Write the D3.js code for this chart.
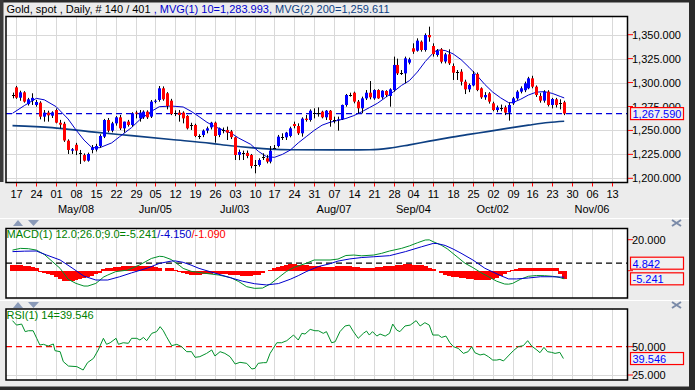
<!DOCTYPE html>
<html><head><meta charset="utf-8">
<script src="https://cdn.jsdelivr.net/npm/d3@7"></script>
<style>body{margin:0;background:#ececec;overflow:hidden}svg{display:block;font-family:"Liberation Sans",Arial,sans-serif}</style>
</head><body><svg id="c" width="695" height="390"></svg>
<script>
// ===== data (index = trading day, 0 = Apr 13) =====
const opens=[1286.5,1295,1284.2,1289.8,1277.5,1281,1276.6,1279,1264.4,1268.6,
1265.4,1271.3,1258,1257,1239.3,1228.9,1235,1226.5,1224.3,1218.4,
1229.6,1230,1233.7,1243.5,1260.9,1249.8,1257.4,1263.7,1252.2,1259.2,
1255.7,1268.6,1262.6,1263.7,1269.6,1264.4,1280.1,1281.8,1294,1288.8,
1281.1,1268,1268.6,1268.6,1265.1,1255.7,1255.7,1244.2,1245.2,1249.8,
1253.2,1258.1,1245.2,1250.5,1250.5,1249,1242.8,1224.5,1226,1226.5,
1224.3,1213.9,1213.9,1222.6,1220.9,1217.4,1232,1233.7,1243.5,1242.8,
1244.2,1256.7,1254.6,1247,1262.3,1260.9,1267.9,1267.9,1269.6,1263.7,
1270.6,1260.9,1260.5,1261.6,1276.6,1287,1289.4,1280.1,1273.1,1283.5,
1289.4,1283.5,1292.2,1284.6,1291.2,1286,1292.2,1318.4,1309.6,1309.6,
1320.8,1335.8,1333.3,1342.7,1334,1349.7,1338.2,1328.8,1334.7,1322,
1329.5,1317.3,1310.7,1311.4,1300.9,1292.9,1297,1309,1294,1284.6,
1288.7,1278.3,1271.3,1273.5,1274.1,1268.6,1278.3,1283.5,1290.5,1292,
1294,1304.4,1295.7,1286,1281.1,1290.5,1276.6,1282.5,1279,1279.4];
const highs=[1289.5,1296.5,1291.5,1291,1284,1288.8,1281.8,1280.5,1271.3,1270.6,
1270,1273,1261,1259,1240.7,1231.6,1237,1229.6,1226,1226.8,
1234.8,1236,1246,1262,1263,1259,1265,1266.1,1259.2,1261,
1269,1270.6,1271.3,1271,1271,1281.8,1282.5,1296.4,1296,1290,
1283,1271,1271.3,1270,1266,1258,1257,1246,1251,1254,
1259,1259.2,1253,1253,1254,1250.5,1243.5,1230,1228.9,1229,
1225.4,1219.1,1220.9,1226.1,1224.3,1233.7,1234.8,1245.3,1247,1248.5,
1253.9,1259.2,1257.4,1263.7,1266.1,1272,1273.1,1274.1,1270.6,1271.3,
1271.3,1264.4,1264.4,1277,1288.1,1289.4,1290.5,1281.8,1285.3,1292.2,
1301.6,1293,1293,1292,1292,1294,1327.1,1325,1313.1,1327.1,
1326,1341,1346.2,1344,1351.4,1358.4,1341,1335,1336,1331,
1334.7,1320,1313.1,1314,1303,1299,1312,1310.5,1295,1290,
1290,1280,1276,1277,1276,1279,1285,1292,1296,1301,
1306,1307.1,1297,1289,1292,1292,1284,1284,1282.5,1281];
const lows=[1283.5,1283,1281,1279,1276,1276.6,1274.8,1261.6,1259.2,1259.2,
1263,1257.4,1252,1238,1225.4,1225.4,1224.3,1215,1217.4,1217.4,
1226.1,1228,1232,1242,1248,1248,1255,1250.5,1247.7,1254,
1254,1262.6,1259.2,1262,1262,1263,1278.3,1280,1281,1272,
1266,1265,1259.2,1257.4,1251,1250.5,1243,1241,1243,1247,
1251,1237.2,1243,1247,1240,1241,1219.1,1219,1219.1,1221,
1210.4,1205.2,1212.2,1219.1,1215.6,1215.6,1231,1232.3,1240,1240,
1242.8,1252.2,1245.3,1243.5,1259.2,1259.2,1262.6,1264.4,1262.6,1260.9,
1253.9,1257.4,1249.8,1260.9,1274.8,1285.3,1278.3,1267.9,1267.9,1281.8,
1282.5,1282,1283,1283,1285,1274.8,1290.5,1307.9,1307.9,1299.2,
1319,1330,1332.3,1332.3,1332.3,1342.7,1327.1,1327,1320,1320,
1318.4,1302.7,1302.7,1297,1288,1290,1296,1291,1283,1282,
1278,1270,1269,1270,1266,1260.2,1276.6,1282,1288.7,1290,
1293,1294,1285,1279,1279,1275,1273,1274,1272,1266];
const closes=[1286.5,1284.2,1289.8,1280.1,1282.5,1284,1279.7,1264.4,1268.6,1265.8,
1268.9,1258.1,1256,1239.5,1229.6,1230.3,1228.9,1226.5,1218.4,1225.4,
1232.3,1233.7,1244.2,1260.9,1249.8,1257.4,1263.7,1252.2,1259.2,1255.7,
1267.9,1267.8,1268.6,1269.6,1263.7,1280.1,1281,1294,1282.5,1275.5,
1267.2,1268,1266.1,1262.6,1252.2,1255.7,1244.2,1244.2,1249.8,1252.2,
1258.1,1244.2,1252.2,1250.5,1247.7,1243,1224.3,1227.5,1226,1223.3,
1212.9,1213.9,1219.1,1222.6,1217.4,1228.9,1232,1243.5,1243.5,1247.7,
1252.2,1254.6,1247,1262.3,1260.9,1270.6,1267.9,1267.9,1263.7,1270.6,
1260.9,1260.9,1261.6,1276.6,1287,1287,1280.1,1273.1,1283.5,1289.4,
1284.6,1292.2,1283.5,1291.5,1287,1292.9,1318.4,1309.6,1309.6,1325.3,
1324.3,1332.3,1343.8,1334,1349.7,1347.3,1329.8,1333.3,1321.8,1329.5,
1320.1,1310.3,1310.7,1300.9,1292.9,1297.5,1309,1292.2,1284.6,1287,
1280.1,1271.3,1274.1,1273.5,1268.6,1276.6,1283.5,1290.5,1294,1299.2,
1304.4,1295.7,1287,1281.1,1290.5,1276.6,1282.8,1276.6,1279,1267.59];
// moving averages: [day index, value]
const ma10=[[0,1267.9],[3,1276],[6,1283.5],[8,1282],[11,1274.8],[14,1262],[16,1250.5],[18,1240],[20,1232],[22,1232],[25,1237],[27,1243.5],[30,1253],[32,1260.9],[35,1270],[37,1274.8],[40,1275.5],[43,1274.5],[45,1270],[47,1264.4],[49,1258.5],[51,1253.9],[53,1250.5],[55,1247.3],[57,1242],[60,1235.5],[62,1228],[64,1222.6],[66,1221.9],[68,1225],[70,1229.5],[72,1237],[74,1243.5],[76,1250],[78,1255.5],[80,1258.5],[82,1260.5],[84,1262.5],[86,1265.5],[88,1269.5],[90,1274],[92,1278.5],[94,1284.5],[96,1290.5],[98,1297],[100,1302],[102,1311],[104,1322],[106,1331],[107,1334],[109,1333.5],[111,1330],[113,1324],[115,1316],[117,1307.5],[119,1298],[121,1290],[123,1284],[125,1279],[126,1279],[128,1282.5],[130,1287],[132,1290],[134,1290.5],[136,1288.7],[138,1285.5],[139,1283.993]];
const ma200=[[0,1255],[10,1253],[20,1248.5],[30,1244.5],[40,1240.5],[50,1236.5],[55,1234],[60,1232],[65,1230.5],[70,1229.8],[80,1229.6],[90,1229.8],[95,1231.5],[100,1235],[105,1238.8],[110,1242.5],[115,1245.8],[120,1249],[125,1252.4],[130,1255.5],[135,1258.3],[139,1259.611]];
const macdLine=[[0,13.3],[2,14.4],[4,14.2],[6,13.3],[8,10.5],[10,6],[12,1.5],[14,-5.5],[16,-8.2],[18,-9.9],[19,-9.9],[21,-8.2],[23,-4],[24,-2.8],[26,-0.6],[29,0.4],[32,3.7],[35,7.9],[37,9.3],[38,9.1],[40,7.2],[42,3.5],[43,1.5],[45,-0.4],[48,-1.5],[52,-2.8],[55,-4.5],[57,-7],[59,-10.3],[61,-11.4],[63,-11.2],[65,-8.5],[67,-4.5],[69,-0.5],[71,2.2],[74,4.8],[76,6.9],[80,6.9],[82,7.5],[84,9.8],[86,10.1],[88,9.6],[91,10.1],[93,11.2],[95,12.7],[98,14.4],[100,16],[102,18],[104,19.8],[105,19.9],[106,18.7],[108,16.5],[109.5,14.2],[112,9],[114,4.8],[116,2],[118,-1.2],[120,-4],[122,-6.8],[124,-8.6],[125,-8.7],[126,-8.2],[128,-5.5],[130,-3.6],[132,-3.1],[134,-3.2],[136,-3.6],[137,-3.9],[138,-4.5],[139,-5.241]];
const signalLine=[[0,12.3],[3,12.6],[6,12.7],[8.6,10.1],[12,6.9],[15,1.8],[18,-3.5],[21,-6],[24,-6],[27,-3.9],[30,-1.4],[34,1.7],[37,4.7],[40,6.2],[41,6.3],[43,5.4],[45,3.6],[47,1.5],[51,-1.6],[55,-4.6],[58,-6.8],[61,-8.4],[64,-9.2],[67,-8.3],[70,-5.5],[72,-3.2],[74,-0.6],[77,2.6],[80,4.5],[82,6.2],[85,7.6],[88,8.5],[91,9],[95,9.7],[99,12.3],[103,15.4],[106,17.6],[107,17.5],[109,16.3],[111,14],[113,11.3],[116,6.9],[119,1.6],[123,-3.2],[125,-5.3],[127,-5.3],[130,-4.7],[133,-3.9],[136,-3.9],[138,-4.1],[139,-4.15]];
const histBars=[3.7,3.7,3.5,3.2,2.8,2.3,1.5,-0.8,-1.7,-2.3,-2.8,-4,-5.5,-6.5,-6.7,-6.7,-6.3,-5.5,-4.9,-4,
-3.2,-2.4,-1.2,0.8,1.5,2,2.3,2.5,2.8,3,3.2,3,2.8,3,3.2,3,2.5,2,0,2,
1.5,0.5,-1,-1.7,-2.3,-2.8,-2.8,-2.5,-2.3,-2,-1.9,-1.8,-2,-2.2,-2.3,-2.5,-2.8,-3,-3.2,-3.4,
-3.2,-3,-2.5,-1.8,-0.5,0.5,1.5,2.5,3.2,3.8,4.1,4.1,4,3.8,3.5,3.2,3,2.8,2.5,2.3,
2.3,2.5,2.8,3,3,2.8,2.5,2.2,2,1.8,1.8,2,2.2,2.5,2.8,3,3.3,3.6,3.9,4.1,
4.1,4,3.8,3.5,3,2,1,-0.3,-1.5,-2.5,-3.2,-3.8,-4.3,-4.6,-4.9,-5.2,-5.5,-5.7,-6,-6,
-5.8,-5.5,-4.5,-3.5,-2.3,-1,0.5,1.2,1.6,1.9,2,2,1.8,1.6,1.6,1.8,1.9,1.5,-2,-5.5];
const rsiLine=[[0,73],[1,69.1],[2.3,70],[3.2,63.3],[4,64.1],[5.2,64.1],[6.1,57.4],[6.9,51.5],[7.8,52.1],[9,50.6],[10.3,52.4],[10.7,46.5],[12,45.6],[12.8,36.8],[14.1,32.9],[16.2,32.4],[17.8,29.4],[18.9,35.9],[20.4,39.7],[21.6,47.1],[22.9,57.4],[23.7,52.1],[24.6,53.5],[26.1,57.4],[26.7,52.1],[27.9,53.5],[29.2,53],[30,57.4],[31.3,57.4],[32.1,55.9],[33,58.2],[33.8,55.3],[35.1,61.8],[36.3,63.3],[37.2,67.7],[38,64.1],[38.8,58.8],[40.1,50.9],[41.4,52.1],[42.6,50],[43.9,45.6],[45.1,45.6],[46,40.6],[47.2,41.2],[48.9,44.1],[50.2,47.1],[51,41.8],[52.3,45.6],[53.5,44.1],[54.8,41.2],[56.1,34.7],[57.3,36.2],[59,35.3],[60.3,30.3],[61.1,30.9],[61.9,35.3],[63.2,35.9],[64,35.9],[64.9,44.1],[65.7,48.5],[66.6,53.5],[67.8,53.5],[69.1,55.3],[70.8,60.3],[72,55.9],[72.9,61.8],[73.7,61.2],[75,65.3],[76.2,64.1],[77.1,64.1],[78.3,61.8],[79.1,63.3],[80.4,53.5],[81.3,54.4],[82.5,63.3],[83.8,68.3],[84.9,69.1],[85.9,63.3],[87.1,57.4],[88.4,61.8],[89.2,63.8],[89.9,60.3],[90.7,63.3],[91.8,59.4],[92.6,61.2],[93.9,59.4],[95,61.8],[95.8,70],[96.8,64.7],[97.6,63.3],[98.9,68.3],[100.2,69.1],[101.7,73],[102.7,68.3],[103.9,71.2],[105,69.1],[105.9,60.3],[107.3,60.3],[108.1,58.2],[109.2,59.4],[110.2,53.5],[111.1,50],[112.3,48.5],[113.6,44.1],[114.8,45.6],[115.7,50],[116.5,44.7],[117.8,42.7],[118.8,43.5],[119.9,41.2],[121,38.2],[122,38.2],[122.8,38.8],[123.7,37.4],[124.9,41.8],[126.2,46.5],[127.4,50],[128.7,50.9],[129.8,55.3],[130.8,50.6],[132.1,47.1],[132.9,44.7],[133.9,49.4],[134.8,45.6],[135.8,45],[136.7,44.1],[137.9,45],[138.8,39.546]];
const weekLabels=["17","24","01","08","15","22","29","05","12","19","26","03","10","17","24","31","07","14","21","28","04","11","18","25","02","09","16","23","30","06","13"];
const monthLabels=[["May/08",3],["Jun/05",7],["Jul/03",11],["Aug/07",16],["Sep/04",20],["Oct/02",24],["Nov/06",29]];
const priceTicks=[1200,1225,1250,1275,1300,1325,1350];
const macdTicks=[20];
const rsiTicks=[50,25];

// ===== drawing =====
const svg=d3.select("#c");
const L=6,R=627.5;
const P1={t:16.5,b:182.5},P2={t:228.5,b:298},P3={t:309,b:380};
const x=d3.scaleLinear().domain([0,139]).range([12.5,564.2]);
const step=x(1)-x(0);
const tickX=k=>x(1+5*k);
const y=d3.scaleLinear().domain([1200,1350]).range([178.3,34.7]);
const ym=d3.scaleLinear().domain([0,20]).range([270.7,239.7]);
const yr=d3.scaleLinear().domain([25,50]).range([375,346.7]);
const fmt=d3.format(",.3f");
const last=closes[closes.length-1];

svg.append("rect").attr("width",695).attr("height",390).attr("fill","#ececec");
svg.append("rect").attr("x",0).attr("y",0).attr("width",695).attr("height",2.5).attr("fill","#2a2a2a");
svg.append("rect").attr("x",0).attr("y",0).attr("width",3.5).attr("height",182).attr("fill","#3a3a3a");
svg.append("rect").attr("x",689).attr("y",0).attr("width",6).attr("height",390).attr("fill","#2a2a2a");
svg.append("rect").attr("x",0).attr("y",386.5).attr("width",695).attr("height",4).attr("fill","#2a2a2a");
svg.append("line").attr("x1",0).attr("x2",689).attr("y1",218.5).attr("y2",218.5).attr("stroke","#fff");
svg.append("line").attr("x1",0).attr("x2",689).attr("y1",300.5).attr("y2",300.5).attr("stroke","#fff");

function panel(p){
  const g=svg.append("g");
  g.append("rect").attr("x",L).attr("y",p.t).attr("width",R-L).attr("height",p.b-p.t).attr("fill","#fff");
  d3.range(31).forEach(k=>{const tx=Math.round(tickX(k))+0.5; if(tx<R) g.append("line").attr("x1",tx).attr("x2",tx).attr("y1",p.t).attr("y2",p.b).attr("stroke","#d9d9d9");});
  return g;
}
function border(p){svg.append("rect").attr("x",L).attr("y",p.t).attr("width",R-L).attr("height",p.b-p.t).attr("fill","none").attr("stroke","#000").attr("stroke-width",1.5);}
const defs=svg.append("defs");
const clip=(id,p)=>defs.append("clipPath").attr("id",id).append("rect").attr("x",L).attr("y",p.t).attr("width",R-L).attr("height",p.b-p.t);
function valBox(yv,t){
  svg.append("rect").attr("x",630.5).attr("y",yv-6).attr("width",53).attr("height",12).attr("fill","#f0f0f0").attr("stroke","#ff0000").attr("stroke-width",1.2);
  svg.append("text").attr("x",632.5).attr("y",yv+4.5).attr("font-size",11).attr("fill","#0000ff").text(t);
}
function axisLabels(ticks,sc,f,skip){
  ticks.forEach(v=>{
    svg.append("line").attr("x1",628).attr("x2",633).attr("y1",sc(v)).attr("y2",sc(v)).attr("stroke","#ff0000");
    const t=svg.append("text").attr("x",632).attr("y",sc(v)+4).attr("font-size",11).text(f(v));
    if(skip&&skip(v)) t.attr("clip-path","url(#lblclip)");
  });
}
defs.append("clipPath").attr("id","lblclip").append("rect").attr("x",628).attr("y",95).attr("width",60).attr("height",12);

// ---- main panel ----
const g1=panel(P1); clip("c1",P1);
priceTicks.forEach(v=>g1.append("line").attr("x1",L).attr("x2",R).attr("y1",Math.round(y(v))+0.5).attr("y2",Math.round(y(v))+0.5).attr("stroke","#d9d9d9"));
const m1=svg.append("g").attr("clip-path","url(#c1)");
m1.append("line").attr("x1",L).attr("x2",R).attr("y1",y(last)).attr("y2",y(last)).attr("stroke","#0000dd").attr("stroke-width",1.2).attr("stroke-dasharray","6,4");
const ln=sc=>d3.line().x(d=>x(d[0])).y(d=>sc(d[1]));
m1.append("path").datum(ma200).attr("fill","none").attr("stroke","#0d3f82").attr("stroke-width",1.7).attr("d",ln(y).curve(d3.curveMonotoneX));
m1.append("path").datum(ma10).attr("fill","none").attr("stroke","#0000cc").attr("stroke-width",1).attr("d",ln(y));
closes.forEach((c,i)=>{
  const o=opens[i],cx=Math.round(x(i));
  m1.append("line").attr("x1",cx+0.5).attr("x2",cx+0.5).attr("y1",y(highs[i])).attr("y2",y(lows[i])).attr("stroke","#000");
  if(Math.abs(c-o)<0.6) m1.append("line").attr("x1",cx-1).attr("x2",cx+2).attr("y1",Math.round(y(c))+0.5).attr("y2",Math.round(y(c))+0.5).attr("stroke","#000");
  else m1.append("rect").attr("x",cx-1).attr("width",3).attr("y",y(Math.max(o,c))).attr("height",Math.max(1,Math.abs(y(o)-y(c)))).attr("fill",c>o?"#0000ff":"#ff0000");
});
border(P1);
axisLabels(priceTicks,y,fmt,v=>v===1275);
valBox(y(last),fmt(last));
d3.range(31).forEach(k=>{const tx=Math.round(tickX(k))+0.5;
  svg.append("line").attr("x1",tx).attr("x2",tx).attr("y1",183).attr("y2",186.5).attr("stroke","#ff0000");
  svg.append("text").attr("x",tx).attr("y",198).attr("font-size",11).attr("text-anchor","middle").text(weekLabels[k]);});
monthLabels.forEach(([t,k])=>svg.append("text").attr("x",tickX(k)).attr("y",213).attr("font-size",11).attr("text-anchor","middle").text(t));
const hdr=svg.append("text").attr("x",6.5).attr("y",13).attr("font-size",11);
hdr.append("tspan").attr("fill","#000").text("Gold, spot , Daily, # 140 / 401");
hdr.append("tspan").attr("fill","#0000cc").text(" , MVG(1) 10="+fmt(ma10[ma10.length-1][1])+",");
hdr.append("tspan").attr("fill","#0d3f82").text(" MVG(2) 200="+fmt(ma200[ma200.length-1][1]));

// ---- MACD ----
const g2=panel(P2); clip("c2",P2);
const m2=svg.append("g").attr("clip-path","url(#c2)").attr("shape-rendering","crispEdges");
histBars.forEach((h,i)=>{
  if(!h) return;
  const x0=Math.floor(x(i)-step/2), x1=Math.ceil(x(i)+step/2);
  m2.append("rect").attr("x",x0).attr("width",x1-x0).attr("y",Math.min(ym(h),ym(0))).attr("height",Math.abs(ym(h)-ym(0))).attr("fill","#ff0000");
});
const m2b=svg.append("g").attr("clip-path","url(#c2)");
m2b.append("line").attr("x1",L).attr("x2",R).attr("y1",ym(4.842)).attr("y2",ym(4.842)).attr("stroke","#000").attr("stroke-width",1.2).attr("stroke-dasharray","6,4");
m2b.append("path").datum(macdLine).attr("fill","none").attr("stroke","#00902a").attr("d",ln(ym));
m2b.append("path").datum(signalLine).attr("fill","none").attr("stroke","#0000cc").attr("d",ln(ym));
border(P2);
axisLabels(macdTicks,ym,d3.format(".3f"));
svg.append("line").attr("x1",628).attr("x2",633).attr("y1",ym(0)).attr("y2",ym(0)).attr("stroke","#ff0000");
valBox(ym(4.842),"4.842"); valBox(ym(-5.241),"-5.241");
const mt=svg.append("text").attr("x",6.5).attr("y",238).attr("font-size",11);
mt.append("tspan").attr("fill","#008000").text("MACD(1) 12.0;26.0;9.0=-5.241");
mt.append("tspan").attr("fill","#0000cc").text("/-4.150");
mt.append("tspan").attr("fill","#ff0000").text("/-1.090");

// ---- RSI ----
const g3=panel(P3); clip("c3",P3);
g3.append("line").attr("x1",L).attr("x2",R).attr("y1",Math.round(yr(25))+0.5).attr("y2",Math.round(yr(25))+0.5).attr("stroke","#d9d9d9");
const m3=svg.append("g").attr("clip-path","url(#c3)");
m3.append("line").attr("x1",L).attr("x2",R).attr("y1",yr(50)).attr("y2",yr(50)).attr("stroke","#ff0000").attr("stroke-width",1.3).attr("stroke-dasharray","6,4");
m3.append("path").datum(rsiLine).attr("fill","none").attr("stroke","#00902a").attr("d",ln(yr));
border(P3);
axisLabels(rsiTicks,yr,d3.format(".3f"));
valBox(yr(39.546),"39.546");
svg.append("text").attr("x",6.5).attr("y",319).attr("font-size",11).attr("fill","#008000").text("RSI(1) 14=39.546");

// panel arrows & close icons
[[220,226],[302,308]].forEach(([a,b])=>{
  svg.append("path").attr("d",`M13,${b}L18,${a}L23,${b}Z`).attr("fill","#8a9ab8");
  svg.append("path").attr("d",`M28,${a}L39,${a}L33.5,${b}Z`).attr("fill","#8a9ab8");
  svg.append("path").attr("d",`M672,${a}L681,${b}M681,${a}L672,${b}`).attr("stroke","#7a8aa8").attr("stroke-width",2);
});
</script></body></html>
